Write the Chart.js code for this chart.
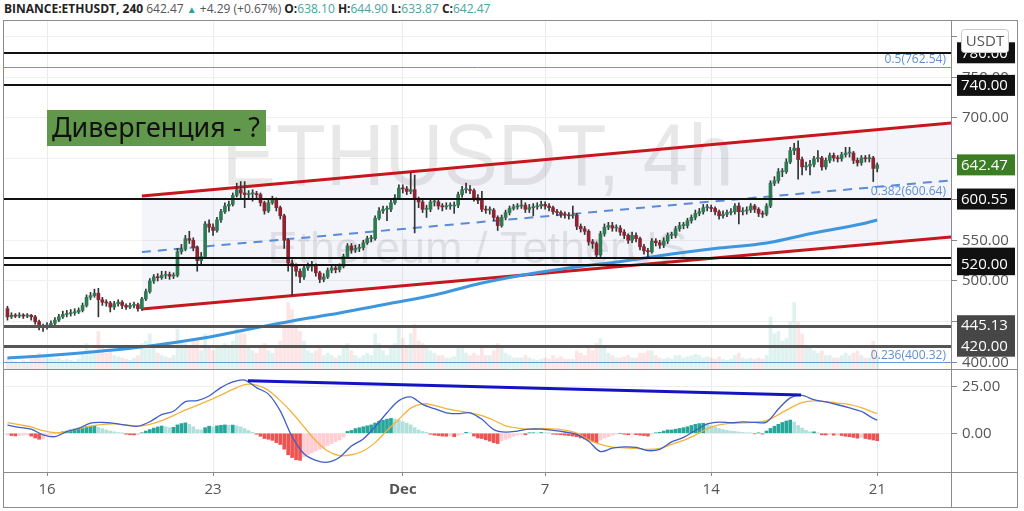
<!DOCTYPE html>
<html>
<head>
<meta charset="utf-8">
<title>ETHUSDT 4h</title>
<script src="https://cdn.jsdelivr.net/npm/chart.js@4.4.1/dist/chart.umd.min.js"></script>
<style>
  html, body { margin: 0; padding: 0; background: #fff; }
  body { width: 1024px; height: 511px; position: relative; overflow: hidden; font-family: "Open Sans", "Noto Sans", sans-serif; }
  #head { position: absolute; left: 4px; top: 1px; font-size: 12px; line-height: 16px; color: #222; white-space: nowrap; }
  #head .g { color: #555; }
  #head .up { color: #26a69a; font-size: 10px; }
  #head .v { color: #4aa39b; }
  #mainBox { position: absolute; left: 4px; top: 21px; width: 1013px; height: 349px; }
  #macdBox { position: absolute; left: 4px; top: 370px; width: 1013px; height: 137px; }
  canvas { display: block; }
  #frame { position: absolute; left: 3px; top: 20px; width: 1015px; height: 488px; border: 1px solid #8c8c8c; box-sizing: border-box; pointer-events: none; }
</style>
</head>
<body>
<div id="head"><b>BINANCE:ETHUSDT, 240</b> <span class="g">642.47</span> <span class="up">▲</span> <span class="g">+4.29 (+0.67%)</span> <b>O:</b><span class="v">638.10</span> <b>H:</b><span class="v">644.90</span> <b>L:</b><span class="v">633.87</span> <b>C:</b><span class="v">642.47</span></div>
<div id="mainBox"><canvas id="mainChart" width="1013" height="349"></canvas></div>
<div id="macdBox"><canvas id="macdChart" width="1013" height="137"></canvas></div>
<div id="frame"></div>
<script>
// Time axis in days counted from Nov 1, one candle every 4h from Nov 14 08:00
const firstCandleDay = 13 + 8 / 24;
const xMin = 13.187;
const xMax = 53.111;
const dateTicks = [15, 22, 30, 36, 43, 50];
const dateLabels = ['16', '23', 'Dec', '7', '14', '21'];

// Price candles (open of each candle = previous close)
const firstOpen = 466;
const closes = [
  456, 458, 457, 458, 457, 458,
  456, 450, 445, 443, 446, 448,
  452, 456, 459, 460, 461, 462,
  464, 470, 480, 482, 485, 477,
  474, 473, 468, 472, 474, 470,
  468, 470, 471, 466, 478, 487,
  500, 505, 504, 507, 508, 506,
  507, 536, 539, 552, 550, 541,
  525, 530, 570, 566, 562, 575,
  585, 592, 594, 605, 612, 608,
  606, 607, 607, 606, 596, 586,
  596, 600, 590, 580, 550, 522,
  518, 512, 505, 516, 518, 519,
  510, 502, 505, 513, 516, 514,
  518, 530, 543, 538, 540, 541,
  547, 552, 552, 577, 586, 588,
  588, 596, 602, 614, 613, 610,
  612, 600, 597, 588, 588, 597,
  597, 592, 591, 592, 592, 593,
  606, 612, 612, 611, 602, 599,
  588, 587, 587, 578, 568, 578,
  584, 589, 591, 592, 593, 588,
  590, 591, 592, 594, 592, 590,
  585, 584, 582, 581, 580, 581,
  567, 564, 561, 548, 546, 532,
  558, 566, 568, 565, 565, 560,
  556, 550, 556, 552, 542, 537,
  536, 549, 547, 544, 549, 556,
  556, 564, 568, 568, 574, 578,
  583, 585, 590, 590, 589, 585,
  580, 582, 584, 585, 592, 585,
  586, 587, 592, 588, 583, 582,
  592, 620, 623, 634, 634, 646,
  660, 663, 649, 640, 641, 643,
  650, 651, 640, 648, 654, 651,
  650, 655, 657, 657, 648, 645,
  651, 650, 651, 638.10, 642.47
];
const highs = [
  469, 461, 460, 461, 460, 460,
  459, 458, 452, 447, 449, 451,
  455, 459, 463, 464, 465, 466,
  467, 473, 483, 486, 490, 491,
  480, 477, 475, 475, 477, 476,
  472, 473, 474, 473, 480, 490,
  503, 508, 509, 512, 512, 511,
  510, 540, 545, 556, 561, 553,
  543, 535, 573, 575, 570, 578,
  588, 596, 598, 608, 620, 622,
  622, 611, 612, 610, 608, 598,
  599, 604, 602, 592, 582, 552,
  526, 521, 515, 519, 522, 524,
  521, 512, 509, 516, 519, 519,
  521, 533, 546, 546, 544, 545,
  550, 555, 556, 580, 590, 592,
  592, 599, 606, 618, 618, 616,
  633, 630, 603, 600, 593, 600,
  601, 599, 595, 596, 596, 597,
  609, 616, 620, 617, 613, 606,
  610, 592, 591, 589, 580, 581,
  587, 592, 594, 595, 600, 596,
  594, 595, 596, 598, 597, 595,
  592, 588, 586, 585, 584, 592,
  583, 570, 567, 563, 551, 548,
  561, 570, 572, 572, 569, 568,
  563, 558, 560, 559, 554, 545,
  540, 552, 552, 550, 553, 559,
  560, 567, 572, 572, 577, 581,
  587, 589, 594, 594, 593, 591,
  587, 586, 587, 589, 595, 596,
  590, 591, 595, 594, 590, 586,
  595, 623, 628, 638, 638, 650,
  664, 669, 672, 652, 646, 648,
  653, 660, 653, 651, 657, 657,
  654, 658, 664, 664, 659, 651,
  654, 654, 655, 653, 644.90
];
const lows = [
  452, 454, 455, 455, 454, 455,
  452, 447, 440, 438, 441, 444,
  446, 450, 454, 456, 457, 458,
  460, 462, 468, 477, 480, 456,
  470, 469, 462, 465, 469, 466,
  465, 466, 467, 463, 464, 476,
  485, 497, 500, 502, 503, 502,
  503, 505, 533, 537, 546, 537,
  512, 520, 528, 560, 556, 560,
  572, 583, 586, 592, 603, 600,
  590, 600, 598, 601, 592, 582,
  584, 594, 586, 576, 540, 512,
  482, 506, 498, 502, 513, 512,
  506, 498, 499, 503, 510, 510,
  511, 516, 528, 534, 535, 536,
  538, 545, 548, 550, 575, 583,
  574, 585, 594, 600, 608, 606,
  607, 559, 590, 584, 578, 585,
  592, 588, 586, 588, 588, 583,
  590, 603, 608, 607, 598, 595,
  585, 583, 582, 574, 562, 566,
  575, 581, 587, 588, 589, 584,
  584, 580, 588, 589, 588, 586,
  582, 580, 578, 577, 576, 577,
  563, 560, 557, 544, 540, 528,
  530, 555, 563, 561, 561, 556,
  552, 546, 547, 548, 538, 533,
  530, 534, 543, 540, 541, 546,
  552, 553, 561, 564, 565, 571,
  575, 580, 582, 586, 585, 581,
  576, 577, 579, 581, 582, 570,
  581, 582, 584, 584, 579, 578,
  580, 590, 617, 620, 628, 632,
  644, 655, 625, 630, 636, 630,
  640, 646, 636, 637, 645, 647,
  646, 647, 652, 652, 644, 641,
  642, 646, 646, 622, 633.87
];
// Volume, thousands ETH per candle
const volumes = [
  50, 40, 35, 30, 40, 35,
  45, 60, 70, 65, 55, 50,
  45, 50, 40, 45, 40, 35,
  45, 70, 110, 80, 70, 160,
  90, 70, 80, 60, 55, 50,
  45, 40, 50, 60, 110, 120,
  150, 90, 70, 60, 55, 50,
  60, 170, 120, 110, 90, 120,
  130, 80, 150, 100, 80, 90,
  100, 110, 90, 120, 180, 170,
  150, 90, 80, 70, 90, 110,
  80, 70, 90, 120, 200, 280,
  250, 180, 160, 120, 80, 70,
  80, 90, 60, 70, 60, 50,
  60, 90, 110, 80, 60, 50,
  60, 70, 60, 150, 110, 80,
  60, 90, 110, 180, 130, 100,
  150, 190, 120, 110, 90, 80,
  70, 60, 60, 50, 50, 55,
  100, 90, 70, 60, 70, 60,
  90, 60, 60, 80, 110, 90,
  70, 60, 50, 50, 50, 60,
  50, 45, 40, 45, 50, 45,
  60, 50, 55, 45, 45, 45,
  80, 70, 60, 90, 80, 110,
  130, 90, 70, 60, 50, 50,
  55, 60, 50, 50, 70, 70,
  80, 80, 60, 50, 45, 50,
  45, 60, 60, 50, 55, 60,
  65, 60, 50, 55, 50, 45,
  55, 45, 40, 45, 60, 70,
  50, 45, 50, 45, 50, 45,
  60, 220, 150, 160, 120, 130,
  200, 280, 200, 150, 100, 90,
  80, 70, 80, 60, 60, 50,
  50, 60, 70, 60, 70, 80,
  60, 50, 50, 120, 60
];

// Moving average, sampled at candle indexes
const maIdx = [0, 12, 24, 36, 48, 60, 72, 84, 96, 108, 120, 132, 144, 156, 168, 180, 192, 204, 216, 220];
const maValues = [405.5, 409.2, 414.1, 420.3, 428.8, 439.9, 451, 460.7, 471.8, 482.8, 497.5, 508.6, 517.2, 524.5, 533.1, 540.5, 546.6, 558.9, 569.9, 574.8];

// MACD and signal, every 3rd candle plus the last one
const macdLine = [
  4.4, 3.2, 2.2, -0.8, -1.8, 0.9, 2.6, 5.5, 5.8, 5.3, 4.4, 3.8, 6.2, 10, 11.8, 17, 17.5, 20, 24.5, 27.5,
  28.5, 24.5, 21, 12, -1.8, -11, -14.5, -15.5, -12.8, -6.8, -3, 3.5, 11, 17.5, 19.5, 15.5, 13.2, 11, 10.5, 11,
  7.5, 2, 0.6, 1.2, 2.2, 2.2, 1.6, 0.7, -0.6, -4.3, -9.8, -8, -7.3, -7.6, -9.3, -8.6, -4.6, -2.2, 1.5, 5,
  6, 5.7, 6.1, 5.8, 6, 13, 19, 20.3, 18, 16.8, 15.3, 13.6, 11.7, 8, 7.1
];
const signalLine = [
  5.7, 4.6, 3.4, 1.4, 0.3, 0.8, 2.4, 3.8, 4.8, 5.1, 4.5, 3.8, 4.8, 6.8, 9.5, 12.5, 15, 17.6, 20.5, 23.5,
  26.1, 25.8, 23, 17.5, 11, 3.5, -4, -9.5, -12, -11.5, -9.5, -5, 1.5, 7.5, 13.5, 15.8, 15, 13.2, 12, 11,
  9.5, 7, 4, 2.8, 2.2, 2.6, 2.4, 1.7, 0.1, -3.5, -6, -7.4, -7.8, -8.1, -8.6, -8.1, -5.9, -3.8, -1, 2.5,
  4.5, 5.3, 5.6, 6, 6.8, 10, 13.5, 16.5, 17.4, 16.9, 16.2, 15.4, 13.8, 11.2, 10.7
];
const histValues = [
  -1, -1.2, -1.4, -1.2, -1.0, -0.8,
  -1.5, -2.5, -3.2, -3.0, -1.0, -0.5,
  -0.2, 0.3, 0.8, 1.2, 1.8, 2.3,
  2.8, 3.3, 3.6, 3.8, 3.9, 3.2,
  2.5, 1.8, 1.2, 0.8, 0.4, 0.1,
  -0.5, -0.8, -0.9, -0.7, 0.3, 1.2,
  2.0, 2.8, 3.4, 3.9, 3.5, 3.0,
  3.2, 4.5, 5.2, 5.6, 4.8, 3.5,
  2.0, 1.8, 3.0, 3.8, 3.4, 4.0,
  4.3, 4.5, 4.3, 4.4, 4.0, 3.4,
  2.5, 1.5, 0.6, -0.5, -1.6, -2.8,
  -3.2, -3.8, -5.0, -6.0, -8.5, -11.5,
  -13.0, -14.2, -14.5, -12.5, -11.5, -10.5,
  -9.5, -8.5, -7.5, -6.5, -5.5, -4.5,
  -3.5, -2.0, 1.0, 1.5, 2.5, 3.0,
  3.5, 4.0, 4.5, 5.5, 6.5, 7.0,
  7.6, 8.0, 7.6, 7.0, 6.2, 5.4,
  4.5, 3.0, 1.8, 1.0, 0.5, -0.5,
  -1.0, -1.2, -1.5, -1.6, -1.4, -1.8,
  -1.2, -0.5, 0.5, 0.3, -1.5, -2.5,
  -2.8, -3.5, -4.2, -5.0, -5.5, -4.0,
  -3.2, -2.5, -1.5, -1.0, -0.5, -0.8,
  0.2, 0.3, 0.2, 0.4, 0.3, 0.2,
  -0.5, -0.6, -0.8, -1.0, -1.2, -1.5,
  -1.8, -2.5, -3.0, -3.6, -4.3, -5.0,
  -3.5, -2.5, -1.8, -1.0, -0.5, 0,
  -0.5, -0.8, -0.6, -0.7, -1.0, -1.2,
  -1.5, -0.4, 0.2, 0.5, 1.2, 1.8,
  1.8, 2.2, 2.6, 3.0, 3.5, 4.2,
  4.8, 5.2, 5.4, 4.8, 4.0, 3.2,
  2.6, 2.0, 1.6, 1.2, 1.0, 0.7,
  0.5, 0.3, 0.2, -0.3, 0.2, -0.4,
  1.2, 2.6, 3.8, 4.8, 5.8, 6.6,
  7.1, 6.0, 4.2, 2.8, 1.6, 0.8,
  0.8, 0.2, -0.8, -0.9, -0.6, -1.0,
  -0.8, -1.2, -1.6, -1.8, -2.2, -2.6,
  -2.2, -2.8, -3.2, -3.6, -4.0
];

// Drawings
const priceTicks = [400, 450, 500, 550, 600, 650, 700, 750, 800];
const hiddenPriceTicks = [450, 600, 650, 800];
const macdTicks = [0, 25];
const blackLevels = [780, 740, 600.55, 528, 520];
const greyLevels = [445.13, 420];
const fibLevels = [762.54, 600.64, 400.32];
const fibLabels = ['0.5(762.54)', '0.382(600.64)', '0.236(400.32)'];
const tagPrices = [780, 740, 642.47, 600.55, 528, 520, 445.13, 420];
const tagLabels = ['780.00', '740.00', '642.47', '600.55', '', '520.00', '445.13', '420.00'];
const tagColors = ['#111', '#111', '#3b7d23', '#111', '#111', '#111', '#474747', '#474747'];
const channelDays = [19.0, 53.111];
const channelUpper = [604.3, 693.9];
const channelLower = [465.6, 554.0];
const channelMid = [535.5, 623.5];
const divDays = [23.47, 46.79];
const divValues = [28.2, 20.5];

const fontFamily = '"Open Sans", "Noto Sans", sans-serif';
const tOf = i => firstCandleDay + i / 6;
const opens = closes.map((c, i) => i === 0 ? firstOpen : closes[i - 1]);
const isUp = closes.map((c, i) => c >= opens[i]);

const setTicks = list => scale => { scale.ticks = list.map(v => ({ value: v })); };

// Watermark, levels, price tags and the note box
const mainOverlay = {
  id: 'mainOverlay',
  beforeDatasetsDraw(chart) {
    const { ctx, chartArea: a } = chart;
    const cx = (a.left + a.right) / 2;
    ctx.save();
    ctx.fillStyle = 'rgba(0,0,0,0.09)';
    ctx.textAlign = 'center';
    ctx.textBaseline = 'alphabetic';
    ctx.font = '88px "Liberation Sans", Arial, sans-serif';
    ctx.fillText('ETHUSDT, 4h', cx, 164, 512);
    ctx.font = '45px "Liberation Sans", Arial, sans-serif';
    ctx.fillText('Ethereum / TetherUS', cx, 242, 427);
    ctx.restore();
  },
  afterDatasetsDraw(chart) {
    const { ctx, chartArea: a, scales } = chart;
    const y = scales.y;
    ctx.save();
    const hline = (p, color, width) => {
      const py = Math.round(y.getPixelForValue(p)) + (width % 2 ? 0.5 : 0);
      ctx.strokeStyle = color;
      ctx.lineWidth = width;
      ctx.beginPath();
      ctx.moveTo(a.left, py);
      ctx.lineTo(a.right, py);
      ctx.stroke();
    };
    fibLevels.forEach(p => hline(p, '#6a97d6', 1));
    blackLevels.forEach(p => hline(p, '#111', 2));
    greyLevels.forEach(p => hline(p, '#555', 3));
    ctx.fillStyle = '#5f8fd3';
    ctx.font = '12px ' + fontFamily;
    ctx.textAlign = 'right';
    ctx.textBaseline = 'middle';
    fibLevels.forEach((p, k) => ctx.fillText(fibLabels[k], a.right - 5, y.getPixelForValue(p) - 7));
    ctx.restore();
  },
  afterDraw(chart) {
    const { ctx, chartArea: a, scales, width, height } = chart;
    const y = scales.y;
    ctx.save();
    // pane separator
    ctx.strokeStyle = '#8c8c8c';
    ctx.lineWidth = 1;
    ctx.beginPath();
    ctx.moveTo(0, height - 0.5);
    ctx.lineTo(width, height - 0.5);
    ctx.stroke();
    // price tags
    ctx.font = '15px ' + fontFamily;
    ctx.textAlign = 'left';
    ctx.textBaseline = 'middle';
    tagPrices.forEach((p, k) => {
      const py = y.getPixelForValue(p);
      ctx.fillStyle = tagColors[k];
      ctx.fillRect(a.right + 6, py - 10.5, 58, 21);
      ctx.fillStyle = '#fff';
      if (tagLabels[k]) ctx.fillText(tagLabels[k], a.right + 10, py + 0.5);
    });
    // currency badge
    ctx.fillStyle = '#fff';
    ctx.strokeStyle = '#c8c8c8';
    ctx.beginPath();
    ctx.roundRect(a.right + 10.5, 8.5, 47, 23, 3);
    ctx.fill();
    ctx.stroke();
    ctx.fillStyle = '#555';
    ctx.textAlign = 'center';
    ctx.fillText('USDT', a.right + 34, 20.5);
    // note box
    ctx.fillStyle = '#62984b';
    ctx.fillRect(43, 89, 219, 36);
    ctx.fillStyle = '#111';
    ctx.textAlign = 'left';
    ctx.textBaseline = 'alphabetic';
    ctx.font = '27px "Noto Sans", "Open Sans", sans-serif';
    ctx.fillText('Дивергенция - ?', 48, 116, 208);
    ctx.restore();
  }
};

new Chart(document.getElementById('mainChart'), {
  type: 'bar',
  data: {
    datasets: [
      {
        type: 'bar', label: 'body',
        data: closes.map((c, i) => ({ x: tOf(i), y: [opens[i], c] })),
        backgroundColor: isUp.map(u => u ? '#2f7a52' : '#8e2331'),
        barThickness: 3, minBarLength: 1, grouped: false, order: 0
      },
      {
        type: 'bar', label: 'wick',
        data: highs.map((h, i) => ({ x: tOf(i), y: [lows[i], h] })),
        backgroundColor: '#333', barThickness: 1, grouped: false, order: 1
      },
      {
        type: 'line', label: 'MA',
        data: maIdx.map((k, j) => ({ x: tOf(k), y: maValues[j] })),
        borderColor: '#3d97df', borderWidth: 3, pointRadius: 0, tension: 0.4, order: 2
      },
      {
        type: 'line', label: 'mid',
        data: channelDays.map((d, j) => ({ x: d, y: channelMid[j] })),
        borderColor: '#5b8bd4', borderWidth: 2, borderDash: [9, 7], pointRadius: 0, order: 3
      },
      {
        type: 'line', label: 'upper',
        data: channelDays.map((d, j) => ({ x: d, y: channelUpper[j] })),
        borderColor: '#c8161d', borderWidth: 3, pointRadius: 0,
        fill: '+1', backgroundColor: 'rgba(110,110,200,0.08)', order: 4
      },
      {
        type: 'line', label: 'lower',
        data: channelDays.map((d, j) => ({ x: d, y: channelLower[j] })),
        borderColor: '#c8161d', borderWidth: 3, pointRadius: 0, order: 5
      },
      {
        type: 'bar', label: 'volume', yAxisID: 'yVol',
        data: volumes.map((v, i) => ({ x: tOf(i), y: v })),
        backgroundColor: isUp.map(u => u ? 'rgba(38,166,154,0.15)' : 'rgba(239,83,80,0.15)'),
        barThickness: 3, grouped: false, order: 6
      }
    ]
  },
  options: {
    responsive: false,
    animation: false,
    events: [],
    layout: { padding: 0 },
    plugins: { legend: { display: false }, tooltip: { enabled: false }, filler: { drawTime: 'beforeDatasetsDraw' } },
    scales: {
      x: {
        type: 'linear', min: xMin, max: xMax, offset: false,
        afterBuildTicks: setTicks(dateTicks),
        ticks: { display: false },
        grid: { color: '#ebebeb', drawTicks: false, offset: false },
        border: { display: false },
        afterFit: s => { s.height = 0; s.paddingLeft = 0; s.paddingRight = 0; }
      },
      y: {
        position: 'right', min: 390.8, max: 819.0,
        afterBuildTicks: setTicks(priceTicks),
        ticks: {
          color: '#555', padding: 5, font: { size: 15, family: fontFamily },
          callback: v => hiddenPriceTicks.includes(v) ? '' : v.toFixed(2)
        },
        grid: { color: '#f0f0f0', tickColor: '#888', tickLength: 6 },
        border: { color: '#8c8c8c' },
        afterFit: s => { s.width = 66; s.paddingTop = 0; s.paddingBottom = 0; }
      },
      yVol: { display: false, min: 0, max: 1450 }
    }
  },
  plugins: [mainOverlay]
});

// MACD pane
const macdIdx = macdLine.map((v, k) => k < macdLine.length - 1 ? k * 3 : closes.length - 1);
const histColors = histValues.map((h, i) => {
  const prev = i ? histValues[i - 1] : h;
  if (h >= 0) return h >= prev ? '#26a69a' : '#b2dfdb';
  return h < prev ? '#ef5350' : '#ffcdd2';
});

const macdOverlay = {
  id: 'macdOverlay',
  afterDraw(chart) {
    const { ctx, chartArea: a, width, height } = chart;
    ctx.save();
    ctx.strokeStyle = '#8c8c8c';
    ctx.lineWidth = 1;
    ctx.beginPath();
    ctx.moveTo(0, a.bottom + 0.5);
    ctx.lineTo(width, a.bottom + 0.5);
    ctx.moveTo(a.right + 0.5, a.bottom);
    ctx.lineTo(a.right + 0.5, height);
    ctx.stroke();
    ctx.restore();
  }
};

new Chart(document.getElementById('macdChart'), {
  type: 'bar',
  data: {
    datasets: [
      {
        type: 'line', label: 'divergence',
        data: divDays.map((d, j) => ({ x: d, y: divValues[j] })),
        borderColor: '#1414c4', borderWidth: 3, pointRadius: 0, order: 0
      },
      {
        type: 'line', label: 'MACD',
        data: macdIdx.map((k, j) => ({ x: tOf(k), y: macdLine[j] })),
        borderColor: '#3f5fc7', borderWidth: 1.3, pointRadius: 0, tension: 0.3, order: 1
      },
      {
        type: 'line', label: 'Signal',
        data: macdIdx.map((k, j) => ({ x: tOf(k), y: signalLine[j] })),
        borderColor: '#f3b33d', borderWidth: 1.3, pointRadius: 0, tension: 0.3, order: 2
      },
      {
        type: 'bar', label: 'Histogram',
        data: histValues.map((h, i) => ({ x: tOf(i), y: h })),
        backgroundColor: histColors, barThickness: 3, grouped: false, order: 3
      }
    ]
  },
  options: {
    responsive: false,
    animation: false,
    events: [],
    layout: { padding: 0 },
    plugins: { legend: { display: false }, tooltip: { enabled: false } },
    scales: {
      x: {
        type: 'linear', min: xMin, max: xMax, offset: false,
        afterBuildTicks: setTicks(dateTicks),
        ticks: {
          color: '#555', padding: 5, autoSkip: false, maxRotation: 0,
          font: c => ({ size: 15, family: fontFamily, weight: c.tick && c.tick.value === 30 ? 'bold' : 'normal' }),
          callback: v => dateLabels[dateTicks.indexOf(v)]
        },
        grid: { color: '#ebebeb', tickColor: '#888', tickLength: 4, offset: false },
        border: { color: '#8c8c8c' },
        afterFit: s => { s.height = 35; s.paddingLeft = 0; s.paddingRight = 0; }
      },
      y: {
        position: 'right', min: -20.74, max: 33.92,
        afterBuildTicks: setTicks(macdTicks),
        ticks: { color: '#555', padding: 5, font: { size: 15, family: fontFamily }, callback: v => v.toFixed(2) },
        grid: { color: '#efefef', tickColor: '#888', tickLength: 6 },
        border: { color: '#8c8c8c' },
        afterFit: s => { s.width = 66; s.paddingTop = 0; s.paddingBottom = 0; }
      }
    }
  },
  plugins: [macdOverlay]
});
</script>
</body>
</html>
